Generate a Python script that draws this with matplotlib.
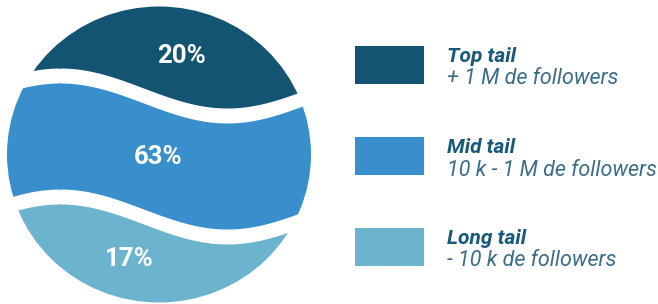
import numpy as np
import matplotlib
matplotlib.use("Agg")
import matplotlib.pyplot as plt
from matplotlib.patches import Ellipse, Rectangle

# --- data ---
tiers = ["Top tail", "Mid tail", "Long tail"]
ranges = ["+ 1 M de followers", "10 k - 1 M de followers", "- 10 k de followers"]
shares = [20, 63, 17]
colors = ["#145473", "#388fcb", "#6cb3cd"]

plt.rcParams['font.family'] = ['Roboto', 'DejaVu Sans']

fig = plt.figure(figsize=(6.58, 3.04), dpi=100)
ax = fig.add_axes([0, 0, 1, 1])
ax.set_xlim(0, 658)
ax.set_ylim(304, 0)
ax.axis('off')

# circle outline used as clip
cx, cy = 159, 154.5
circle = Ellipse((cx, cy), 304, 296, facecolor='none', edgecolor='none')
ax.add_patch(circle)

# wavy band edges
x = np.linspace(0, 330, 400)
wave = 88 - 20 * np.cos(2 * np.pi * (x - 60) / 334)
gap = 15
edges = [(np.zeros_like(x), wave),
         (wave + gap, wave + 121),
         (wave + 121 + gap, np.full_like(x, 304))]

for (lo, hi), c in zip(edges, colors):
    poly = ax.fill_between(x, lo, hi, color=c, linewidth=0)
    poly.set_clip_path(circle)

# percent labels
label_pos = [(181, 56), (158, 157), (129, 259)]
for (px, py), s in zip(label_pos, shares):
    ax.text(px, py, f"{s}%", color='white', fontsize=18.5, fontweight='bold',
            ha='center', va='center')

# legend
top0 = 46
step = 91
for i, (t, r, c) in enumerate(zip(tiers, ranges, colors)):
    y0 = top0 + i * step
    ax.add_patch(Rectangle((355, y0), 69, 38, facecolor=c, edgecolor='none'))
    ax.text(447, y0 + 16, t, color='#17597a', fontsize=15, fontweight='bold',
            fontstyle='italic', va='baseline', ha='left')
    ax.text(447, y0 + 38.5, r, color='#3a6d89', fontsize=15.5, fontweight='normal',
            fontstyle='italic', va='baseline', ha='left')

fig.savefig("out.png", dpi=100)
